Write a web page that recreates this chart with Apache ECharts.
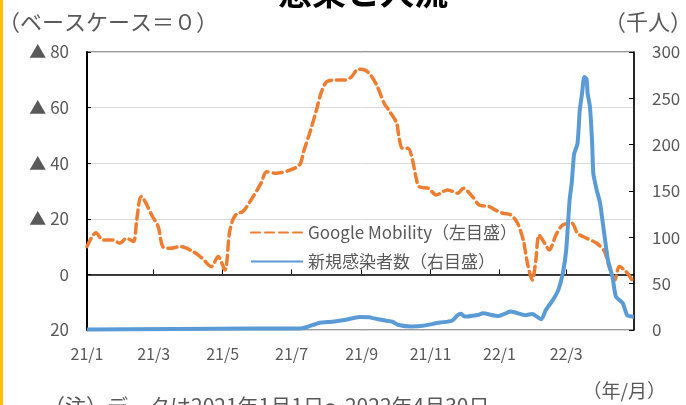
<!DOCTYPE html>
<html><head><meta charset="utf-8">
<script src="https://cdn.jsdelivr.net/npm/echarts@6/dist/echarts.min.js"></script>
<style>html,body{margin:0;padding:0;background:#fff}#c{width:686px;height:405px}</style>
</head><body><div id="c"></div>
<script>
// Google Mobility (left axis, ▲ = negative)
const mobilityDates = ['2021-01-01','2021-01-09','2021-01-15','2021-01-24','2021-01-30','2021-02-05','2021-02-11','2021-02-14','2021-02-18','2021-02-28','2021-03-05','2021-03-09','2021-03-15','2021-03-25','2021-04-05','2021-04-13','2021-04-21','2021-04-27','2021-05-03','2021-05-07','2021-05-10','2021-05-14','2021-05-19','2021-05-28','2021-06-04','2021-06-09','2021-06-17','2021-06-28','2021-07-08','2021-07-12','2021-07-17','2021-07-23','2021-07-27','2021-08-01','2021-08-08','2021-08-18','2021-08-23','2021-08-29','2021-09-04','2021-09-09','2021-09-15','2021-09-21','2021-09-26','2021-10-02','2021-10-04','2021-10-07','2021-10-12','2021-10-16','2021-10-19','2021-10-22','2021-10-30','2021-11-06','2021-11-16','2021-11-25','2021-11-30','2021-12-08','2021-12-14','2021-12-23','2021-12-28','2022-01-04','2022-01-11','2022-01-17','2022-01-22','2022-01-26','2022-01-30','2022-02-02','2022-02-05','2022-02-10','2022-02-14','2022-02-20','2022-02-26','2022-03-06','2022-03-11','2022-03-19','2022-03-28','2022-04-04','2022-04-08','2022-04-13','2022-04-17','2022-04-23','2022-04-30'];
const mobilityValues = [-10,-15,-12.4,-12.4,-11.2,-13,-11.8,-19.6,-28,-20.8,-17.2,-10,-9.4,-10,-8.2,-5.8,-2.8,-6.4,-1.6,-14.8,-19.6,-22,-22.6,-28,-32.8,-36.9,-36.4,-37.3,-39.4,-44.7,-50.8,-59.1,-65.1,-69.3,-69.9,-69.9,-71.1,-73.8,-73.5,-71.7,-67.5,-61.5,-58.5,-54.4,-49.5,-45.4,-45.4,-41.2,-35.1,-31.5,-31,-28.6,-30.4,-29.2,-31,-28,-25,-24.4,-23.2,-22,-21.4,-18.4,-12.4,-3.4,2,-4.6,-14.2,-11.2,-8.8,-14.2,-17.8,-18.4,-14.8,-13,-11.2,-8.2,-2.8,2,-2.8,-1,3.2];
// New cases (right axis, thousand people)
const caseDates = ['2021-01-01','2021-05-28','2021-07-08','2021-07-14','2021-07-26','2021-08-06','2021-08-18','2021-08-30','2021-09-08','2021-09-11','2021-09-23','2021-09-28','2021-10-04','2021-10-15','2021-10-25','2021-11-09','2021-11-20','2021-11-25','2021-11-28','2021-12-01','2021-12-14','2021-12-17','2021-12-31','2022-01-11','2022-01-24','2022-01-30','2022-02-07','2022-02-11','2022-02-17','2022-02-22','2022-02-26','2022-03-01','2022-03-04','2022-03-06','2022-03-08','2022-03-11','2022-03-13','2022-03-15','2022-03-17','2022-03-19','2022-03-20','2022-03-22','2022-03-24','2022-03-25','2022-03-28','2022-03-31','2022-04-02','2022-04-04','2022-04-07','2022-04-11','2022-04-14','2022-04-20','2022-04-24','2022-04-30'];
const caseValues = [0.5,1.5,1.5,3,7.9,9,11,14,13.7,12.8,10,9,5.4,3.8,4.5,8,10,16,17.5,14.5,16.5,18,15,20,16,17.3,11.5,21.6,32,43,61,86,140,160,190,201,237,255,273,271,255,241,201,169,151,137,119,101,75,57,36,29,16,14.4];
const leftTicks = {min:-80, max:20, interval:20};
const rightTicks = {min:0, max:300, interval:50};

// daily category axis
const days = [];
{
  let t = Date.UTC(2021,0,1); const end = Date.UTC(2022,3,30);
  while (t <= end) { days.push(new Date(t).toISOString().slice(0,10)); t += 86400000; }
}
const isOddMonthStart = (idx, v) => { const m = +v.slice(5,7); return v.slice(8)==='01' && m % 2 === 1; };

const chart = echarts.init(document.getElementById('c'));
const gray = '#595959';
const ff = '"Noto Sans CJK JP", "Noto Sans", sans-serif';
chart.setOption({
  animation:false,
  textStyle:{fontFamily:ff},
  grid:{left:87, top:52, right:52, bottom:75, outerBoundsMode:'none', containLabel:false, show:true, borderColor:'#333', borderWidth:1, backgroundColor:'transparent'},
  legend:{
    left:245, top:219, orient:'vertical', itemWidth:52, itemHeight:14, itemGap:12,
    itemStyle:{opacity:0, borderWidth:0},
    textStyle:{fontSize:17, color:gray, fontFamily:ff},
    data:['Google Mobility（左目盛）','新規感染者数（右目盛）']
  },
  xAxis:{
    type:'category', data:days, boundaryGap:false,
    axisLine:{onZero:true, onZeroAxisIndex:0, lineStyle:{color:'#000', width:1.5}},
    axisTick:{inside:true, length:5, interval:isOddMonthStart, lineStyle:{color:'#000'}},
    axisLabel:{interval:isOddMonthStart, margin:16, fontSize:16, color:gray, fontFamily:ff,
      formatter:v => v.slice(2,4)+'/'+(+v.slice(5,7))},
    splitLine:{show:false}
  },
  yAxis:[
    {type:'value', inverse:true, min:leftTicks.min, max:leftTicks.max, interval:leftTicks.interval,
     axisLine:{show:true, lineStyle:{color:'#000', width:2}},
     axisTick:{show:true, inside:true, length:4, lineStyle:{color:'#000'}},
     axisLabel:{fontSize:17, color:gray, margin:18, fontFamily:ff, formatter:v => v < 0 ? '▲ ' + (-v) : String(v)},
     splitLine:{show:true, lineStyle:{color:'#D9D9D9', width:1}}},
    {type:'value', min:rightTicks.min, max:rightTicks.max, interval:rightTicks.interval, position:'right',
     axisLine:{show:true, lineStyle:{color:'#000', width:1.5}},
     axisTick:{show:true, inside:true, length:5, lineStyle:{color:'#000'}},
     axisLabel:{fontSize:17, color:gray, margin:18, fontFamily:ff},
     splitLine:{show:false}}
  ],
  series:[
    {name:'Google Mobility（左目盛）', type:'line', yAxisIndex:0, symbol:'none', smooth:0.3,
     lineStyle:{color:'#ED7D31', width:3.5, type:[9,5], cap:'round'}, itemStyle:{color:'#ED7D31'},
     data:mobilityDates.map((d,i)=>[d, mobilityValues[i]])},
    {name:'新規感染者数（右目盛）', type:'line', yAxisIndex:1, symbol:'none', smooth:0.2,
     lineStyle:{color:'#5B9BD5', width:4}, itemStyle:{color:'#5B9BD5'},
     data:caseDates.map((d,i)=>[d, caseValues[i]])}
  ],
  graphic:[
    {type:'rect', left:0, top:0, shape:{width:3, height:405}, style:{fill:'#FFC000'}},
    {type:'text', x:363, y:-8, style:{text:'感染と人流', fontSize:34, fontWeight:'bold', fill:'#000', fontFamily:ff, align:'center', verticalAlign:'middle'}},
    {type:'text', x:-2, y:22, style:{text:'（ベースケース＝０）', fontSize:22, fill:gray, fontFamily:ff, align:'left', verticalAlign:'middle'}},
    {type:'text', x:692, y:22, style:{text:'（千人）', fontSize:22, fill:gray, fontFamily:ff, align:'right', verticalAlign:'middle'}},
    {type:'text', x:666, y:391, style:{text:'（年/月）', fontSize:19, fill:gray, fontFamily:ff, align:'right', verticalAlign:'middle'}},
    {type:'text', x:44, y:406, style:{text:'（注）データは2021年1月1日～2022年4月30日', fontSize:21, fill:gray, fontFamily:ff, align:'left', verticalAlign:'middle'}}
  ]
});
</script></body></html>
